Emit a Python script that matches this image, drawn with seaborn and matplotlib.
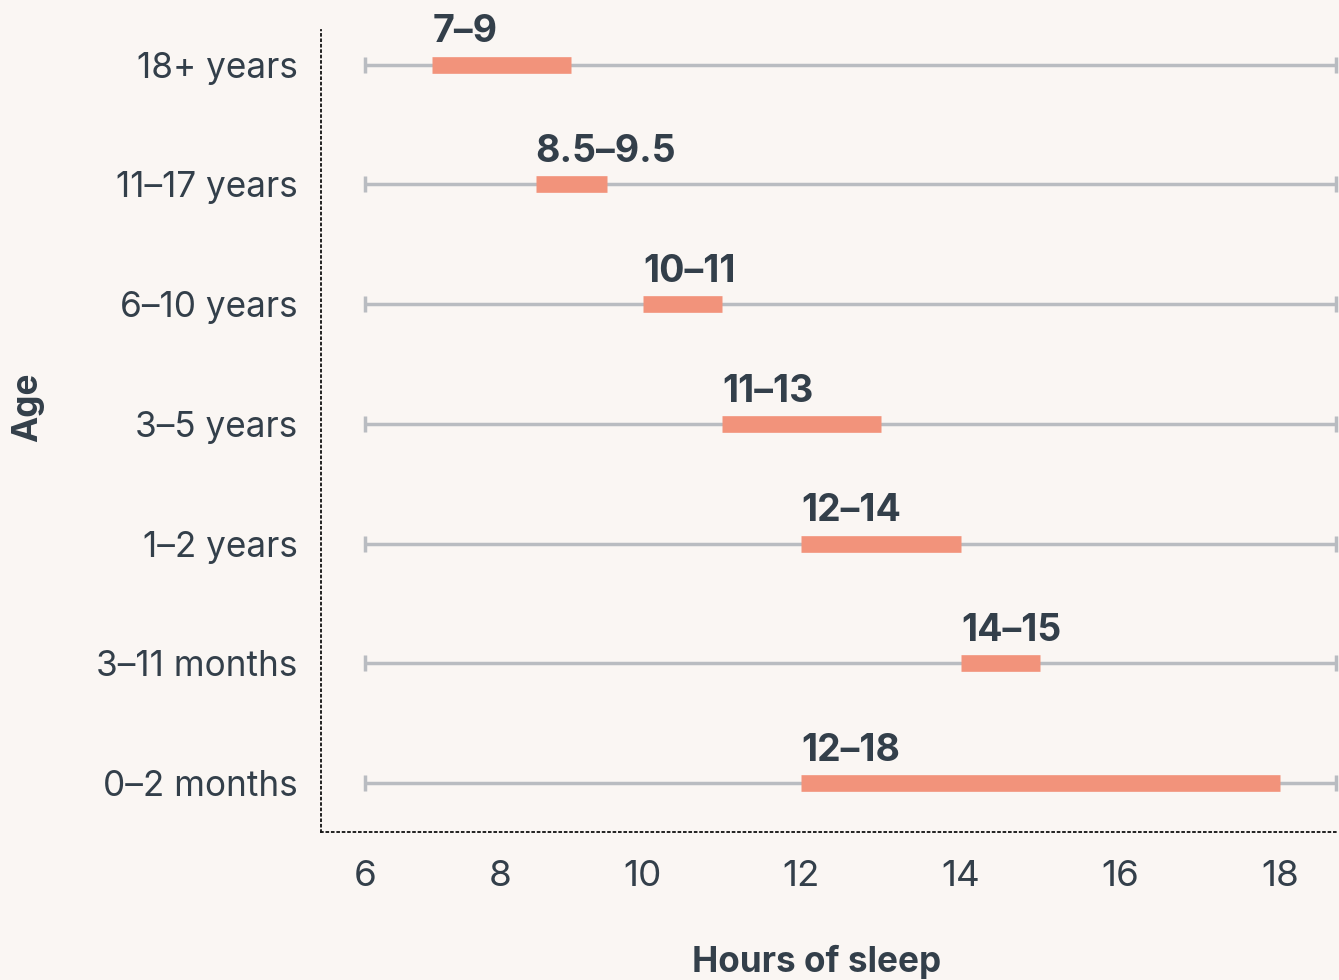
import numpy as np
import pandas as pd
import matplotlib
matplotlib.use("Agg")
import matplotlib.pyplot as plt
import seaborn as sns

# Recommended hours of sleep by age group
ages = ["18+ years", "11–17 years", "6–10 years", "3–5 years",
        "1–2 years", "3–11 months", "0–2 months"]
low = [7, 8.5, 10, 11, 12, 14, 12]
high = [9, 9.5, 11, 13, 14, 15, 18]
range_labels = ["7–9", "8.5–9.5", "10–11", "11–13", "12–14", "14–15", "12–18"]
hour_ticks = [6, 8, 10, 12, 14, 16, 18]

BG = "#faf6f3"
BAR = "#f2937b"
GUIDE = "#b9bcc1"
INK = "#333f4a"

sns.set_theme(style="white")
plt.rcParams["font.family"] = ["Inter", "DejaVu Sans"]
plt.rcParams["text.color"] = INK
plt.rcParams["axes.labelcolor"] = INK
plt.rcParams["xtick.color"] = INK
plt.rcParams["ytick.color"] = INK

# Piecewise-linear hour axis (knots in hours -> relative screen units)
_KH = np.array([4, 6, 8, 10, 12, 14, 16, 18, 20], dtype=float)
_KP = np.array([228, 365, 500, 643, 801, 961, 1120, 1280, 1440], dtype=float)


def _lin(v, xs, ys):
    v = np.asarray(v, dtype=float)
    out = np.interp(v, xs, ys)
    out = np.where(v < xs[0], ys[0] + (v - xs[0]) * (ys[1] - ys[0]) / (xs[1] - xs[0]), out)
    out = np.where(v > xs[-1], ys[-1] + (v - xs[-1]) * (ys[-1] - ys[-2]) / (xs[-1] - xs[-2]), out)
    return out


def _warp(x):
    return _lin(x, _KH, _KP)


def _unwarp(p):
    return _lin(p, _KP, _KH)


fig = plt.figure(figsize=(13.39, 9.8), dpi=100, facecolor=BG)
ax = fig.add_axes([321 / 1339, 1 - 832 / 980, 1 - 321 / 1339, (832 - 30) / 980])
ax.set_facecolor(BG)
ax.set_xscale("function", functions=(_warp, _unwarp))

pos = np.arange(len(ages))
guide_end = 18.7

# Guide rails with end caps
ax.hlines(pos, hour_ticks[0], guide_end, color=GUIDE, lw=2.5, zorder=1)
ax.plot([hour_ticks[0]] * len(pos), pos, ls="none", marker="|", ms=12, mew=2.5,
        color=GUIDE, zorder=1)
ax.plot([guide_end] * len(pos), pos, ls="none", marker="|", ms=12, mew=2.5,
        color=GUIDE, zorder=1)

# Recommended ranges
ranges = pd.DataFrame({
    "age": np.repeat(ages, 2),
    "pos": np.repeat(pos, 2),
    "hours": np.ravel(np.column_stack([low, high])),
})
sns.lineplot(data=ranges, x="hours", y="pos", units="age", estimator=None,
             color=BAR, linewidth=12, solid_capstyle="butt", legend=False,
             ax=ax, zorder=3)

for p, lo_, lab in zip(pos, low, range_labels):
    ax.annotate(lab, xy=(lo_, p), xytext=(0, 16), textcoords="offset points",
                ha="left", va="baseline", fontsize=27, fontweight="bold",
                color=INK)

ax.set_xlim(5.358, 18.7375)
ax.set_ylim(6.41, -0.29)
ax.set_xticks(hour_ticks, [str(t) for t in hour_ticks])
ax.set_yticks(pos, ages)
ax.tick_params(axis="x", length=0, pad=20, labelsize=26.5)
ax.tick_params(axis="y", length=0, pad=17, labelsize=25.3)
ax.xaxis.set_minor_locator(matplotlib.ticker.NullLocator())

for side in ("top", "right"):
    ax.spines[side].set_visible(False)
for side in ("left", "bottom"):
    ax.spines[side].set_linestyle((0, (1, 2)))
    ax.spines[side].set_color("#111111")
    ax.spines[side].set_linewidth(1.3)

ax.set_xlabel("Hours of sleep", fontsize=25.3, fontweight="bold")
ax.set_ylabel("Age", fontsize=25.3, fontweight="bold")
ax.xaxis.set_label_coords(0.487, -0.141)
ax.yaxis.set_label_coords(-0.272, 0.53)

fig.savefig("out.png", dpi=100, facecolor=BG)
